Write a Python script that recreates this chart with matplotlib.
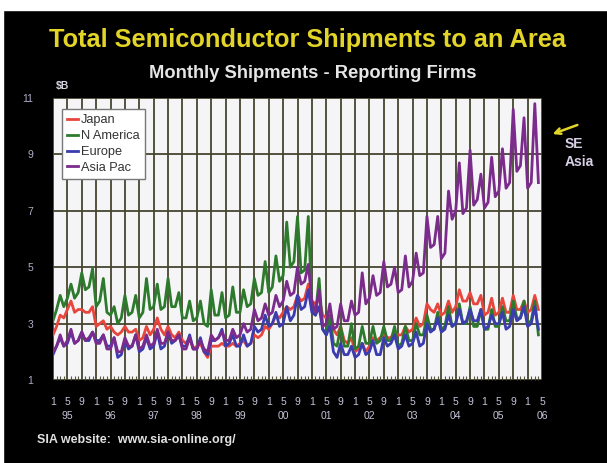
import numpy as np
import matplotlib
matplotlib.use('Agg')
import matplotlib.pyplot as plt
from matplotlib.patches import Rectangle

plt.rcParams['font.family'] = ['Liberation Sans', 'DejaVu Sans']

# monthly shipments, $B, Jan 1995 .. Apr 2006
japan = [
    2.6, 2.9, 3.3, 3.2, 3.5, 3.8, 3.4, 3.5, 3.5, 3.4, 3.4, 3.6,   # 95
    2.9, 3.0, 3.1, 2.8, 2.9, 2.7, 2.6, 2.7, 2.9, 2.7, 2.7, 2.8,   # 96
    2.4, 2.5, 2.9, 2.6, 2.8, 3.2, 2.8, 2.6, 2.9, 2.6, 2.5, 2.7,   # 97
    2.4, 2.3, 2.5, 2.1, 2.2, 2.3, 2.0, 1.8, 2.2, 2.2, 2.2, 2.3,   # 98
    2.2, 2.2, 2.3, 2.2, 2.3, 2.4, 2.2, 2.3, 2.6, 2.5, 2.6, 2.9,   # 99
    2.8, 3.0, 3.3, 3.2, 3.4, 3.6, 3.5, 3.6, 4.0, 3.8, 3.9, 4.4,   # 00
    3.8, 3.7, 3.9, 3.3, 3.2, 3.3, 2.8, 2.6, 2.9, 2.4, 2.3, 2.5,   # 01
    2.0, 2.1, 2.3, 2.0, 2.2, 2.5, 2.4, 2.5, 2.6, 2.5, 2.5, 2.7,   # 02
    2.6, 2.6, 2.9, 2.7, 2.8, 3.2, 2.9, 3.0, 3.7, 3.5, 3.4, 3.7,   # 03
    3.3, 3.4, 3.8, 3.4, 3.6, 4.2, 3.8, 3.8, 4.1, 3.7, 3.7, 4.0,   # 04
    3.3, 3.4, 3.9, 3.3, 3.4, 3.9, 3.4, 3.4, 4.0, 3.5, 3.5, 3.8,   # 05
    3.4, 3.5, 4.0, 3.5,                                           # 06
]
n_america = [
    3.1, 3.5, 4.0, 3.6, 3.9, 4.4, 3.9, 4.1, 4.8, 4.2, 4.3, 4.95,
    3.6, 3.8, 4.6, 3.4, 3.3, 3.6, 3.0, 3.2, 4.0, 3.3, 3.4, 4.0,
    3.2, 3.4, 4.6, 3.5, 3.6, 4.4, 3.5, 3.6, 4.6, 3.6, 3.6, 4.1,
    3.2, 3.2, 3.8, 3.1, 3.2, 3.8, 3.0, 2.9, 4.2, 3.3, 3.3, 4.1,
    3.2, 3.3, 4.3, 3.4, 3.4, 4.2, 3.6, 3.7, 4.6, 4.0, 4.1, 5.2,
    4.1, 4.3, 5.4, 4.5, 4.7, 6.6, 5.0, 5.2, 6.8, 4.8, 4.9, 6.8,
    3.6, 3.3, 4.6, 2.8, 2.6, 3.3, 2.3, 2.2, 2.9, 2.2, 2.2, 3.0,
    2.1, 2.2, 2.9, 2.3, 2.3, 2.9, 2.3, 2.4, 2.9, 2.4, 2.4, 2.9,
    2.2, 2.3, 2.9, 2.4, 2.4, 3.0, 2.6, 2.6, 3.3, 2.8, 2.8, 3.4,
    2.8, 2.9, 3.6, 2.9, 3.0, 3.7, 3.0, 3.0, 3.6, 2.9, 2.9, 3.5,
    2.8, 2.8, 3.5, 2.9, 2.9, 3.6, 3.1, 3.1, 3.8, 3.2, 3.2, 3.8,
    3.0, 3.1, 3.8, 2.6,
]
europe = [
    1.9, 2.2, 2.5, 2.2, 2.3, 2.7, 2.3, 2.4, 2.7, 2.4, 2.4, 2.7,
    2.4, 2.4, 2.6, 2.2, 2.2, 2.5, 1.8, 1.9, 2.4, 2.1, 2.2, 2.6,
    2.0, 2.1, 2.5, 2.1, 2.2, 2.7, 2.1, 2.2, 2.7, 2.3, 2.4, 2.6,
    2.2, 2.2, 2.6, 2.1, 2.1, 2.5, 2.0, 1.9, 2.4, 2.4, 2.5, 2.8,
    2.2, 2.3, 2.6, 2.2, 2.2, 2.6, 2.2, 2.3, 2.9, 2.7, 2.8, 3.3,
    2.9, 3.0, 3.4, 2.9, 3.0, 3.6, 3.1, 3.3, 4.0, 3.5, 3.6, 4.2,
    3.4, 3.3, 3.6, 2.8, 2.6, 2.9, 2.0, 1.8, 2.3, 1.9, 1.9, 2.2,
    1.8, 1.9, 2.3, 1.9, 2.0, 2.4, 1.9, 1.9, 2.5, 2.2, 2.3, 2.6,
    2.1, 2.2, 2.6, 2.2, 2.3, 2.7, 2.2, 2.3, 3.0, 2.7, 2.8, 3.2,
    2.7, 2.8, 3.3, 2.9, 3.0, 3.5, 3.0, 3.1, 3.5, 3.1, 3.1, 3.5,
    2.8, 2.9, 3.3, 3.0, 3.0, 3.4, 2.8, 2.9, 3.5, 3.1, 3.2, 3.6,
    2.9, 3.0, 3.6, 2.8,
]
asia_pac = [
    2.0, 2.2, 2.6, 2.2, 2.4, 2.8, 2.3, 2.4, 2.7, 2.4, 2.5, 2.7,
    2.3, 2.3, 2.6, 2.1, 2.1, 2.5, 2.0, 2.0, 2.5, 2.2, 2.2, 2.6,
    2.1, 2.2, 2.6, 2.2, 2.3, 2.8, 2.3, 2.3, 2.7, 2.4, 2.4, 2.6,
    2.1, 2.1, 2.5, 2.1, 2.1, 2.4, 2.1, 2.0, 2.6, 2.4, 2.5, 2.7,
    2.4, 2.4, 2.8, 2.5, 2.6, 3.0, 2.7, 2.8, 3.5, 3.1, 3.2, 3.7,
    3.3, 3.4, 4.0, 3.6, 3.8, 4.5, 4.0, 4.1, 5.0, 4.4, 4.5, 5.1,
    3.8, 3.4, 4.2, 2.9, 3.0, 3.7, 2.8, 2.9, 3.7, 3.1, 3.1, 3.8,
    3.3, 3.4, 4.8, 3.7, 3.9, 4.7, 4.0, 4.1, 5.2, 4.3, 4.4, 5.0,
    4.1, 4.2, 5.4, 4.3, 4.5, 5.5, 4.7, 4.8, 6.8, 5.7, 5.8, 6.8,
    5.3, 5.5, 7.7, 6.7, 7.0, 8.7, 6.9, 7.1, 9.15, 7.2, 7.4, 8.3,
    7.1, 7.3, 8.9, 7.5, 7.7, 9.2, 7.8, 8.0, 10.6, 8.4, 8.6, 10.3,
    7.8, 8.0, 10.8, 8.0,
]
series_names = ['Japan', 'N America', 'Europe', 'Asia Pac']
years = ['95', '96', '97', '98', '99', '00', '01', '02', '03', '04', '05', '06']
month_labels = ['1', '5', '9']

colors = ['#e8453c', '#2d7a2d', '#3b3cb0', '#7b2b8c']

months = np.arange(len(japan))

fig = plt.figure(figsize=(6.07, 4.63), dpi=100, facecolor='black')
# scanned white border at top / left
fig.patches.append(Rectangle((0, 1 - 10 / 463.), 1, 10 / 463., transform=fig.transFigure,
                             color='white', zorder=0))
fig.patches.append(Rectangle((0, 0), 3 / 607., 1, transform=fig.transFigure,
                             color='white', zorder=0))

ax = fig.add_axes([53 / 607., 1 - 380 / 463., (542 - 53) / 607., (380 - 98) / 463.])
ax.set_facecolor('#f5f5f7')

for vals, name, c in zip([japan, n_america, europe, asia_pac], series_names, colors):
    ax.plot(months, vals, color=c, lw=2.0, label=name, zorder=3)

ax.set_xlim(0, 136)
ax.set_ylim(1, 11)

# x ticks every 4 months, year under the "5"
xt = np.arange(0, 137, 4)
labels = []
for i, t in enumerate(xt):
    lab = month_labels[i % 3]
    if i % 3 == 1:
        lab = lab + '\n' + years[i // 3]
    labels.append(lab)
ax.set_xticks(xt)
ax.set_xticklabels(labels, fontsize=7.5, color='#c9c2d8', linespacing=1.6, va='top')
ax.set_xticks(np.arange(0, 137, 1), minor=True)
ax.tick_params(axis='x', which='major', length=0, pad=12)
ax.tick_params(axis='x', which='minor', direction='in', length=3, width=0.8, color='#555540')

ax.set_yticks([1, 3, 5, 7, 9, 11])
ax.set_yticklabels(['1', '3', '5', '7', '9', '11'], fontsize=7.5, color='#b4abc8')
ax.tick_params(axis='y', length=0, pad=14)

ax.grid(True, which='major', color='#45452f', lw=1.3, zorder=1)
ax.set_axisbelow(True)
for s in ax.spines.values():
    s.set_visible(False)

ax.text(0.005, 1.025, '$B', transform=ax.transAxes, fontsize=7.5, color='#d8d4e0',
        fontweight='bold', ha='left', va='bottom')

leg = ax.legend(loc='upper left', bbox_to_anchor=(0.018, 0.96), borderaxespad=0,
                fontsize=9.2, handlelength=0.9, handletextpad=0.2, labelspacing=0.3,
                fancybox=False, framealpha=1, borderpad=0.4)
leg.get_frame().set_edgecolor('#777777')
leg.get_frame().set_linewidth(1.0)
for t in leg.get_texts():
    t.set_color('#333333')

fig.text(0.506, 1 - 40 / 463., 'Total Semiconductor Shipments to an Area', color='#e3d428',
         fontsize=18.3, fontweight='bold', ha='center', va='center')
fig.text(0.515, 1 - 73 / 463., 'Monthly Shipments - Reporting Firms', color='#e6e6e6',
         fontsize=13.2, fontweight='bold', ha='center', va='center')

# SE Asia note
ax.annotate('', xy=(550 / 607., 1 - 135 / 463.), xytext=(580 / 607., 1 - 124 / 463.),
            xycoords='figure fraction', textcoords='figure fraction',
            arrowprops=dict(arrowstyle='->', color='#e3d428', lw=1.8))
fig.text(565 / 607., 1 - 153 / 463., 'SE\nAsia', color='#d8d0e6', fontsize=10,
         fontweight='bold', ha='left', va='center', linespacing=1.3)

fig.text(37 / 607., 1 - 440 / 463., 'SIA website:  www.sia-online.org/', color='#e0e0e0',
         fontsize=9, fontweight='bold', ha='left', va='center')

plt.savefig('out.png', dpi=100, facecolor=fig.get_facecolor())
print('Saved to out.png')
